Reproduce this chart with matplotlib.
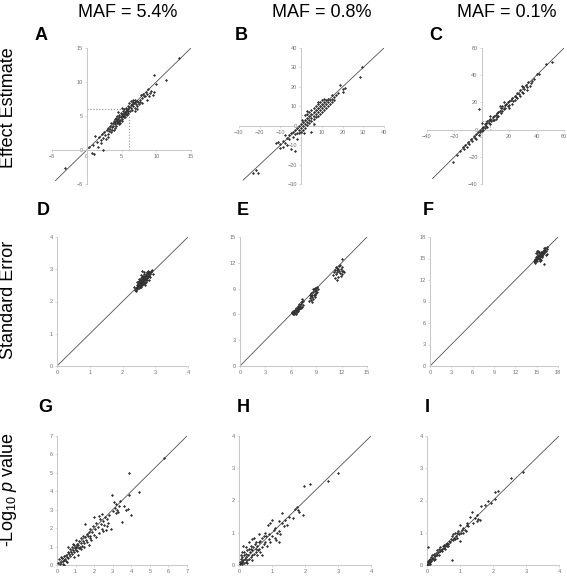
import matplotlib.pyplot as plt

plt.rcParams['font.family'] = ['Liberation Sans', 'DejaVu Sans']
plt.rcParams['mathtext.fontset'] = 'custom'
plt.rcParams['mathtext.rm'] = 'Liberation Sans'
plt.rcParams['mathtext.it'] = 'Liberation Sans:italic'

# ---- data (estimated from the reference figure) ----
col_titles = ['MAF = 5.4%', 'MAF = 0.8%', 'MAF = 0.1%']
row_titles = ['Effect Estimate', 'Standard Error', r'-Log$_{\mathrm{10}}$ $\mathit{p}$ value']
panel_letters = ['A', 'B', 'C', 'D', 'E', 'F', 'G', 'H', 'I']

# A: effect estimate, MAF 5.4%
a_x = [-3.1, 0.3, 0.7, 1.0, 2.4, 1.2, 13.3, 9.7, 11.4, 9.9, 9.3, 9.7, 9.6, 0.9, 1.6,
       1.5, 1.8, 2.0, 2.2, 2.3, 2.5, 2.6, 2.8, 2.9, 3.0, 3.1, 3.2, 3.3, 3.4, 3.5, 3.5,
       3.6, 3.7, 3.8, 3.8, 3.9, 4.0, 4.0, 4.1, 4.2, 4.2, 4.3, 4.3, 4.4, 4.4, 4.5, 4.5,
       4.6, 4.6, 4.7, 4.7, 4.8, 4.8, 4.9, 4.9, 5.0, 5.0, 5.1, 5.1, 5.2, 5.2, 5.3, 5.3,
       5.4, 5.4, 5.5, 5.5, 5.6, 5.6, 5.7, 5.7, 5.8, 5.8, 5.9, 5.9, 6.0, 6.0, 6.1, 6.1,
       6.2, 6.3, 6.3, 6.4, 6.5, 6.5, 6.6, 6.7, 6.7, 6.8, 6.9, 7.0, 7.0, 7.1, 7.2, 7.3,
       7.4, 7.5, 7.6, 7.7, 7.8, 7.9, 8.0, 8.1, 8.2, 8.4, 8.5, 8.6, 8.7, 8.8, 9.0, 9.1,
       6.9, 7.2, 5.1, 4.5, 3.0, 2.0, 3.9, 4.1]
a_y = [-2.6, 0.4, -0.5, -0.6, 0.0, 2.0, 13.6, 11.1, 10.3, 9.7, 8.7, 8.6, 8.1, 0.8, 0.4,
       1.2, 1.9, 1.5, 2.4, 1.8, 2.6, 2.2, 1.6, 2.9, 2.4, 3.3, 2.8, 3.6, 3.1, 2.6, 3.9,
       3.4, 3.0, 4.0, 3.6, 4.3, 3.8, 4.5, 4.1, 3.5, 4.7, 4.2, 3.9, 4.4, 5.0, 4.1, 4.6,
       3.8, 4.3, 4.8, 5.2, 4.4, 4.0, 4.9, 5.4, 4.6, 5.0, 4.3, 5.3, 5.0, 5.7, 4.8, 5.4,
       5.1, 6.0, 5.5, 4.9, 5.8, 5.3, 6.2, 5.6, 5.9, 5.2, 6.5, 5.7, 6.0, 5.4, 6.3, 6.9,
       5.8, 6.6, 7.2, 6.2, 6.8, 5.9, 7.0, 6.5, 7.3, 6.9, 6.2, 7.1, 7.4, 6.7, 7.2, 6.4,
       7.0, 6.8, 7.4, 7.1, 8.1, 6.9, 7.6, 8.3, 7.9, 8.0, 8.6, 7.4, 8.3, 8.9, 7.9, 8.4,
       5.8, 6.0, 6.2, 5.6, 1.9, 1.0, 2.9, 3.3]

# B: effect estimate, MAF 0.8%
b_x = [-23, -22, -21, -12, -11, -10, -10, -9, -8, -7, -7, -6, -6, -5, -5, -4, -4, -3, -3,
       -3, -2, -2, -1, -1, -1, 0, 0, 0, 1, 1, 1, 2, 2, 2, 2, 3, 3, 3, 3, 4, 4, 4, 4, 5,
       5, 5, 5, 5, 6, 6, 6, 6, 7, 7, 7, 7, 8, 8, 8, 8, 9, 9, 9, 9, 10, 10, 10, 10, 11, 11,
       11, 12, 12, 12, 13, 13, 13, 14, 14, 15, 15, 15, 16, 16, 17, 18, 19, 20, 20, 21,
       28.5, 29.5, -8, -9, 0.5, 1.5, -2, 3, 6, 11, 8]
b_y = [-24.5, -23, -24.2, -9, -8.5, -9.5, -11.5, -8, -9, -6.5, -10, -5, -7, -12, -4, -6,
       -3, -13, -2, -4.5, -1, -3.5, -2, 0, -4, -1, 1, -3, 0, 2, -2, 1, 3, -1, 5.5, 2, 4,
       0.5, 6, 3, 5, 1.5, 7, 4, 6, -3, 2.5, 8, 5, 7, 3.5, 9, 6, 8, 4.5, 10, 7, 9, 5, 11,
       8, 10, 6, 12, 9, 11, 7, 13, 10, 12, 8, 11, 13, 9, 12, 14, 10, 13, 11, 14, 16, 12,
       15, 13, 16, 17, 21, 19, 17.5, 19.5, 25, 30, -5, -11, 3, -4, -7, 7.5, 1, 14, 12]

# C: effect estimate, MAF 0.1%
c_x = [-21, -18, -16, -14, -13, -12, -11, -10, -9, -8, -7, -6, -5, -4, -4, -3, -2, -2, -1,
       -1, 0, 0, 0, 1, 1, 2, 2, 3, 3, 4, 4, 5, 5, 6, 6, 7, 8, 8, 9, 10, 10, 11, 12, 12, 13,
       14, 14, 15, 15, 16, 17, 17, 18, 19, 19, 20, 20, 21, 22, 22, 23, 24, 24, 25, 26, 26,
       27, 28, 28, 29, 30, 30, 31, 32, 33, 34, 35, 36, 37, 38, 40, 42, 47, 51, 13, 16, 9,
       20, 29, 33, 6, 11]
c_y = [-24, -18.5, -16, -12.5, -14, -11, -13, -9, -10.5, -7, -8.5, -5, -6, -3, -7, -2, 15,
       -4, 0, -2, 1, -1, 5, 2, 0, 4, 1, 5, 3, 6, 2, 5, 7, 4, 8, 6, 9, 7, 10, 8, 11, 12, 10,
       13, 14, 12, 16, 14, 17, 15, 18, 16, 19, 17, 20, 21, 18, 22, 19, 23, 21, 25, 22, 24,
       27, 23, 26, 29, 25, 28, 31, 27, 30, 33, 31, 35, 32, 34, 36, 37, 41, 41, 48, 50, 17,
       20, 7, 16, 32, 29, 10, 9]

# D: standard error, MAF 5.4%
d_x = [2.38, 2.40, 2.42, 2.43, 2.44, 2.45, 2.46, 2.47, 2.48, 2.48, 2.49, 2.50, 2.50, 2.51,
       2.52, 2.52, 2.53, 2.53, 2.54, 2.54, 2.55, 2.55, 2.56, 2.56, 2.57, 2.57, 2.58, 2.58,
       2.59, 2.59, 2.60, 2.60, 2.61, 2.61, 2.62, 2.62, 2.63, 2.63, 2.64, 2.64, 2.65, 2.65,
       2.66, 2.66, 2.67, 2.67, 2.68, 2.68, 2.69, 2.70, 2.70, 2.71, 2.72, 2.72, 2.73, 2.74,
       2.74, 2.75, 2.76, 2.77, 2.78, 2.78, 2.80, 2.81, 2.82, 2.84, 2.86, 2.88, 2.90, 2.45,
       2.50, 2.58, 2.65, 2.70, 2.80, 2.85, 2.36, 2.41, 2.92, 2.60]
d_y = [2.35, 2.42, 2.38, 2.46, 2.50, 2.40, 2.55, 2.44, 2.48, 2.60, 2.52, 2.42, 2.56, 2.64,
       2.47, 2.58, 2.52, 2.68, 2.44, 2.60, 2.55, 2.72, 2.50, 2.64, 2.58, 2.46, 2.68, 2.54,
       2.62, 2.76, 2.50, 2.66, 2.58, 2.72, 2.62, 2.54, 2.70, 2.80, 2.60, 2.66, 2.74, 2.56,
       2.68, 2.84, 2.62, 2.76, 2.70, 2.58, 2.80, 2.66, 2.74, 2.86, 2.70, 2.62, 2.78, 2.90,
       2.72, 2.82, 2.68, 2.88, 2.76, 2.94, 2.84, 2.78, 2.92, 2.86, 2.96, 2.90, 2.98, 2.60,
       2.70, 2.82, 2.90, 2.52, 2.66, 2.75, 2.44, 2.32, 2.85, 2.95]

# E: standard error, MAF 0.8%
e_x = [6.1, 6.2, 6.3, 6.3, 6.4, 6.5, 6.5, 6.6, 6.6, 6.7, 6.7, 6.8, 6.8, 6.9, 6.9, 7.0, 7.0,
       7.1, 7.1, 7.2, 7.2, 7.3, 7.3, 7.4, 7.3, 7.2, 6.4, 6.6, 7.0, 6.9, 7.4,
       8.2, 8.3, 8.3, 8.4, 8.4, 8.5, 8.5, 8.6, 8.6, 8.7, 8.7, 8.8, 8.8, 8.9, 8.9, 9.0, 9.0,
       9.1, 9.1, 9.2, 8.5, 8.6, 8.9, 9.0, 8.4,
       11.0, 11.1, 11.2, 11.2, 11.3, 11.4, 11.4, 11.5, 11.5, 11.6, 11.7, 11.7, 11.8, 11.9,
       11.9, 12.0, 12.0, 12.1, 12.2, 12.3, 11.8, 11.3, 11.6, 12.1]
e_y = [6.2, 6.3, 6.1, 6.4, 6.3, 6.5, 6.2, 6.4, 6.7, 6.5, 6.3, 6.8, 6.6, 6.7, 6.4, 6.9, 6.6,
       7.0, 6.8, 7.2, 6.7, 7.4, 6.9, 7.1, 7.8, 7.5, 6.0, 6.1, 7.2, 7.0, 7.6,
       7.6, 7.9, 8.2, 7.7, 8.5, 8.0, 8.3, 7.8, 8.6, 8.2, 8.9, 8.4, 8.0, 8.7, 9.1, 8.5, 8.8,
       8.6, 9.2, 8.9, 7.5, 9.0, 8.2, 9.1, 8.1,
       10.6, 10.9, 10.2, 11.2, 10.7, 11.4, 10.0, 10.9, 11.2, 10.4, 11.0, 11.6, 10.8, 11.3,
       10.5, 11.1, 12.5, 10.7, 11.0, 10.9, 11.8, 11.5, 11.3, 11.5]

# F: standard error, MAF 0.1%
f_x = [14.6, 14.7, 14.7, 14.8, 14.8, 14.9, 14.9, 15.0, 15.0, 15.0, 15.1, 15.1, 15.2, 15.2,
       15.3, 15.3, 15.4, 15.4, 15.5, 15.5, 15.5, 15.6, 15.6, 15.7, 15.7, 15.8, 15.8, 15.9,
       15.9, 16.0, 16.0, 16.1, 16.2, 16.2, 16.3, 16.4, 16.5, 15.0, 15.2, 14.9, 16.3, 16.5,
       16.0, 15.4, 15.6, 14.8, 15.8, 15.1, 15.3, 16.1]
f_y = [14.6, 14.8, 14.5, 15.0, 14.7, 15.2, 14.8, 15.0, 15.4, 14.6, 15.2, 14.9, 15.5, 15.1,
       15.3, 14.9, 15.6, 15.2, 15.4, 15.8, 15.0, 15.5, 15.9, 15.3, 15.7, 15.9, 15.5, 16.1,
       15.6, 15.8, 16.2, 15.9, 16.1, 16.4, 16.0, 16.3, 16.6, 16.1, 16.0, 15.7, 15.5, 15.6,
       14.2, 14.6, 14.8, 14.4, 15.2, 15.7, 15.9, 16.5]

# G: -log10 p, MAF 5.4%
g_x = [0.05, 0.1, 0.15, 0.2, 0.25, 0.3, 0.35, 0.4, 0.4, 0.45, 0.5, 0.5, 0.55, 0.6, 0.6, 0.65,
       0.7, 0.7, 0.75, 0.8, 0.8, 0.85, 0.9, 0.9, 0.95, 1.0, 1.0, 1.05, 1.1, 1.1, 1.15, 1.2,
       1.2, 1.25, 1.3, 1.3, 1.35, 1.4, 1.4, 1.45, 1.5, 1.5, 1.55, 1.6, 1.6, 1.65, 1.7, 1.75,
       1.8, 1.8, 1.85, 1.9, 1.95, 2.0, 2.05, 2.1, 2.1, 2.2, 2.25, 2.3, 2.35, 2.4, 2.4, 2.5,
       2.55, 2.6, 2.65, 2.7, 2.75, 2.8, 2.9, 2.95, 3.0, 3.05, 3.1, 3.15, 3.2, 3.25, 3.3, 3.4,
       3.5, 3.6, 3.7, 3.8, 3.85, 3.9, 4.0, 4.4, 5.75, 0.3, 0.6, 0.9, 1.15, 1.7, 2.0, 2.7,
       0.2, 1.0, 1.3, 0.55, 0.85, 1.45, 2.25, 2.45, 3.35]
g_y = [0.1, 0.3, 0.05, 0.15, 0.4, 0.2, 0.0, 0.5, 0.25, 0.35, 0.55, 0.2, 0.45, 0.7, 0.4, 0.6,
       0.85, 0.5, 0.7, 0.95, 0.6, 0.8, 1.1, 0.7, 0.9, 1.0, 0.8, 1.15, 0.95, 0.75, 1.1, 1.3,
       0.9, 1.0, 1.2, 1.45, 1.05, 1.3, 1.6, 1.2, 1.5, 2.25, 1.35, 1.7, 1.25, 1.55, 1.8, 1.45,
       1.95, 1.6, 1.35, 1.8, 2.1, 1.65, 1.95, 2.3, 1.5, 2.05, 1.75, 2.5, 2.25, 1.95, 2.75,
       2.4, 2.15, 2.6, 1.9, 2.5, 2.3, 2.7, 1.95, 3.8, 2.95, 3.4, 3.1, 2.8, 3.3, 3.0, 2.85,
       3.45, 2.35, 3.2, 3.0, 3.05, 5.0, 3.8, 2.7, 3.95, 5.8, 0.05, 0.95, 0.45, 0.55, 1.1,
       2.6, 2.1, 0.45, 1.35, 0.85, 0.15, 1.15, 0.95, 2.65, 1.85, 3.2]

# H: -log10 p, MAF 0.8%
h_x = [0.02, 0.03, 0.05, 0.05, 0.08, 0.08, 0.1, 0.1, 0.12, 0.15, 0.15, 0.18, 0.2, 0.2, 0.22,
       0.25, 0.25, 0.28, 0.3, 0.3, 0.32, 0.35, 0.35, 0.38, 0.4, 0.4, 0.42, 0.45, 0.48, 0.5,
       0.5, 0.55, 0.58, 0.6, 0.62, 0.65, 0.7, 0.7, 0.75, 0.78, 0.8, 0.82, 0.85, 0.88, 0.9,
       0.92, 0.95, 0.95, 1.0, 1.0, 1.05, 1.08, 1.1, 1.15, 1.2, 1.25, 1.3, 1.3, 1.35, 1.4,
       1.45, 1.5, 1.65, 1.7, 1.75, 1.78, 1.82, 1.95, 1.98, 2.15, 2.7, 3.0, 0.12, 0.2, 0.3,
       0.45, 0.6, 0.15, 0.05, 0.25, 0.4, 0.55, 0.65, 0.1, 0.35, 0.5, 0.75, 1.2, 0.7, 1.12,
       1.2]
h_y = [0.02, 0.1, 0.05, 0.18, 0.12, 0.02, 0.25, 0.08, 0.15, 0.3, 0.05, 0.2, 0.35, 0.1, 0.25,
       0.45, 0.15, 0.3, 0.5, 0.2, 0.4, 0.6, 0.25, 0.8, 0.45, 0.3, 0.55, 0.35, 0.65, 0.5,
       0.4, 0.6, 0.45, 0.7, 0.5, 0.75, 0.55, 0.85, 0.65, 1.0, 0.7, 0.9, 0.6, 1.25, 0.8,
       0.95, 1.3, 0.7, 1.38, 0.9, 1.1, 0.85, 1.15, 1.0, 1.05, 0.95, 1.6, 1.3, 1.2, 1.4,
       1.25, 1.5, 1.45, 1.75, 1.8, 1.7, 1.65, 1.55, 2.45, 2.5, 2.6, 2.85, 0.6, 0.55, 0.7,
       0.85, 0.95, 0.4, 0.3, 0.05, 0.15, 0.3, 0.4, 0.4, 0.5, 0.7, 0.9, 1.35, 0.3, 0.78,
       0.7]

# I: -log10 p, MAF 0.1%
i_x = [0.01, 0.02, 0.03, 0.04, 0.05, 0.06, 0.08, 0.08, 0.1, 0.12, 0.12, 0.15, 0.15, 0.18,
       0.2, 0.2, 0.22, 0.25, 0.28, 0.3, 0.3, 0.33, 0.35, 0.38, 0.4, 0.42, 0.45, 0.48, 0.5,
       0.52, 0.55, 0.58, 0.6, 0.62, 0.65, 0.68, 0.7, 0.72, 0.75, 0.75, 0.78, 0.8, 0.82,
       0.85, 0.88, 0.9, 0.95, 0.97, 1.0, 1.0, 1.02, 1.05, 1.1, 1.15, 1.2, 1.22, 1.25, 1.3,
       1.35, 1.4, 1.45, 1.5, 1.52, 1.55, 1.6, 1.65, 1.75, 1.85, 1.95, 2.05, 2.05, 2.15,
       2.55, 2.9, 0.03, 0.25, 0.45, 0.65, 0.85, 1.1, 1.18, 0.55, 0.35, 0.92]
i_y = [0.02, 0.08, 0.0, 0.12, 0.05, 0.15, 0.1, 0.03, 0.2, 0.12, 0.25, 0.18, 0.3, 0.22,
       0.3, 0.15, 0.35, 0.28, 0.38, 0.3, 0.45, 0.4, 0.5, 0.42, 0.55, 0.48, 0.5, 0.6, 0.52,
       0.62, 0.58, 0.65, 0.6, 0.68, 0.66, 0.75, 0.7, 0.8, 0.15, 0.9, 0.78, 0.95, 0.85,
       0.82, 0.9, 0.85, 1.05, 0.95, 1.25, 0.75, 1.0, 1.08, 1.15, 1.1, 1.25, 1.3, 1.2, 1.5,
       1.65, 1.3, 1.45, 1.55, 1.35, 1.42, 1.4, 1.82, 1.85, 1.98, 1.92, 2.05, 2.25, 2.28,
       2.7, 2.88, 0.55, 0.2, 0.42, 0.6, 1.0, 1.0, 1.05, 0.5, 0.32, 0.98]

panel_x = [a_x, b_x, c_x, d_x, e_x, f_x, g_x, h_x, i_x]
panel_y = [a_y, b_y, c_y, d_y, e_y, f_y, g_y, h_y, i_y]
panel_ticks = [[-5, 0, 5, 10, 15], [-30, -20, -10, 0, 10, 20, 30, 40],
               [-40, -20, 0, 20, 40, 60], [0, 1, 2, 3, 4], [0, 3, 6, 9, 12, 15],
               [0, 3, 6, 9, 12, 15, 18], [0, 1, 2, 3, 4, 5, 6, 7], [0, 1, 2, 3, 4],
               [0, 1, 2, 3, 4]]
diag_start = [-4.5, -28, -36, 0, 0, 0, 0, 0, 0]
# dotted guide (value marked on both axes) for the effect-estimate panels
guide_val = [6.1, 5.5, 6.0]

# ---- layout (pixel boxes of each panel) ----
W, H = 567, 576
boxes = [(52, 48, 191, 184), (239, 48, 384, 184), (427, 48, 564, 184),
         (57, 237, 188, 366), (240, 237, 367, 366), (430, 237, 558, 366),
         (57, 436, 187, 565), (239, 436, 371, 565), (427, 436, 559, 565)]
letter_pos = [(35, 40), (235, 40), (429, 40), (37, 215), (237, 215), (423, 215),
              (38, 412), (237, 412), (425, 412)]

fig = plt.figure(figsize=(5.67, 5.76), dpi=100)

for k in range(9):
    x0, y0, x1, y1 = boxes[k]
    ax = fig.add_axes([x0 / W, 1 - y1 / H, (x1 - x0) / W, (y1 - y0) / H])
    ticks = panel_ticks[k]
    lo, hi = ticks[0], ticks[-1]
    ax.set_xlim(lo, hi)
    ax.set_ylim(lo, hi)
    ax.set_xticks(ticks)
    ax.set_yticks(ticks)
    for s in ['top', 'right']:
        ax.spines[s].set_visible(False)
    for s in ['left', 'bottom']:
        ax.spines[s].set_color('#c8c8c8')
        ax.spines[s].set_linewidth(0.7)
    if k < 3:
        ax.spines['left'].set_position('zero')
        ax.spines['bottom'].set_position('zero')
        g = guide_val[k]
        ax.plot([0, g], [g, g], color='#909090', ls=':', lw=0.8)
        ax.plot([g, g], [0, g], color='#909090', ls=':', lw=0.8)
    ax.tick_params(labelsize=4, colors='#c8c8c8', labelcolor='#707070',
                   length=1.5, width=0.5, pad=1.5)
    ax.patch.set_alpha(0)

    ax.plot([diag_start[k], hi], [diag_start[k], hi], color='#505050', lw=0.6)
    ax.scatter(panel_x[k], panel_y[k], s=2.4, marker='D', color='#333333',
               linewidths=0, zorder=3)

    lx, ly = letter_pos[k]
    fig.text(lx / W, 1 - ly / H, panel_letters[k], fontsize=13, fontweight='bold',
             ha='left', va='baseline')

for cx, t in zip([128, 322, 507], col_titles):
    fig.text(cx / W, 1 - 17 / H, t, fontsize=13, ha='center', va='baseline')

for cy, t in zip([108, 300, 490], row_titles):
    fig.text(9 / W, 1 - cy / H, t, fontsize=13, rotation=90, ha='center', va='center')

fig.savefig('out.png', dpi=100)
